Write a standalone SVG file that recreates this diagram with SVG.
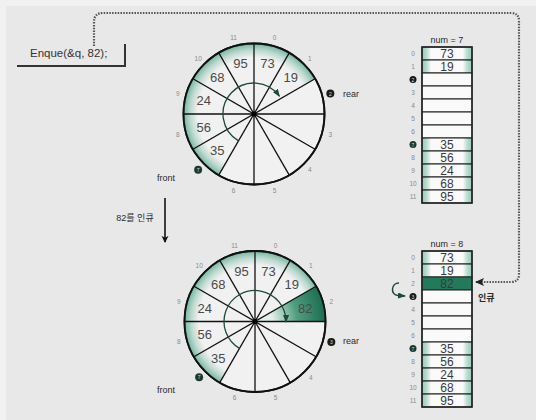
<svg xmlns="http://www.w3.org/2000/svg" xmlns:xlink="http://www.w3.org/1999/xlink" width="536" height="420" viewBox="0 0 536 420">
<style>
text{font-family:"Liberation Sans","Noto Sans CJK KR",sans-serif}
.spoke{stroke:#111;stroke-width:1.3}
.disc{fill:#f1f1f1;stroke:#111;stroke-width:1.8}
.val{font-size:13px;fill:#4a4a4a;text-anchor:middle;dominant-baseline:central}
.rval{font-size:12px;fill:#3a3a3a;text-anchor:middle;dominant-baseline:central}
.idx{font-size:6.5px;fill:#8a8a8a;text-anchor:middle;dominant-baseline:central}
.lbl{font-size:9px;fill:#2a2a2a;dominant-baseline:central}
.row{fill:#fafafa;stroke:#2a2a2a;stroke-width:1.1}
.full{fill:url(#rowg);stroke:#2a2a2a;stroke-width:1.1}
.mk{fill:#1a1a1a}
.mkg{fill:#1c3a2c}
.mkt{font-size:5px;fill:#ddd;text-anchor:middle;dominant-baseline:central}
.inner{fill:none;stroke:#1f4a3a;stroke-width:1.3}
</style>
<defs>
<radialGradient id="rimg" cx="0" cy="0" r="70.5" gradientUnits="userSpaceOnUse">
<stop offset="0.8" stop-color="#4aa487" stop-opacity="0"/>
<stop offset="0.9" stop-color="#4aa487" stop-opacity="0.3"/>
<stop offset="1" stop-color="#3d9a7c" stop-opacity="0.7"/>
</radialGradient>
<radialGradient id="darkg" cx="0" cy="0" r="70.5" gradientUnits="userSpaceOnUse">
<stop offset="0.25" stop-color="#e2efe9"/>
<stop offset="0.6" stop-color="#4f9e80"/>
<stop offset="1" stop-color="#1c6e50"/>
</radialGradient>
<linearGradient id="rowg" x1="0" y1="0" x2="1" y2="0">
<stop offset="0" stop-color="#5cb89a" stop-opacity="0.55"/>
<stop offset="0.18" stop-color="#fafafa"/>
<stop offset="0.82" stop-color="#fafafa"/>
<stop offset="1" stop-color="#5cb89a" stop-opacity="0.55"/>
</linearGradient>
<g id="spokes">
<line class="spoke" x1="0" y1="-70.5" x2="0" y2="70.5"/>
<line class="spoke" x1="0" y1="-70.5" x2="0" y2="70.5" transform="rotate(30)"/>
<line class="spoke" x1="0" y1="-70.5" x2="0" y2="70.5" transform="rotate(60)"/>
<line class="spoke" x1="0" y1="-70.5" x2="0" y2="70.5" transform="rotate(90)"/>
<line class="spoke" x1="0" y1="-70.5" x2="0" y2="70.5" transform="rotate(120)"/>
<line class="spoke" x1="0" y1="-70.5" x2="0" y2="70.5" transform="rotate(150)"/>
</g>
<marker id="ga" viewBox="0 0 8 6" refX="7" refY="3" markerWidth="8" markerHeight="6" markerUnits="userSpaceOnUse" orient="auto">
<path d="M0,0 L8,3 L0,6 z" fill="#1f4a3a"/>
</marker>
<marker id="ba" viewBox="0 0 8 8" refX="7" refY="4" markerWidth="7" markerHeight="8" markerUnits="userSpaceOnUse" orient="auto">
<path d="M0,0 L8,4 L0,8 L2,4 z" fill="#111"/>
</marker>
<marker id="da" viewBox="0 0 9 8" refX="8" refY="4" markerWidth="9" markerHeight="8" markerUnits="userSpaceOnUse" orient="auto">
<path d="M0,0 L9,4 L0,8 L2,4 z" fill="#222"/>
</marker>
</defs>
<rect x="0" y="0" width="536" height="420" fill="#f1f1f1"/>
<rect x="6" y="6" width="530" height="414" fill="#e8e8e8"/>

<g id="code">
<text x="30" y="57" font-size="11.5" fill="#333">Enque(&amp;q, 82);</text>
<path d="M17,66 H125 V44" fill="none" stroke="#333" stroke-width="2"/>
</g>

<g id="circle-top" transform="translate(254,114)">
<circle class="disc" r="70.5"/>
<path d="M0,0 L-35.25,61.05 A70.5,70.5 0 1 1 61.05,-35.25 Z" fill="url(#rimg)"/>
<use xlink:href="#spokes"/>
<circle r="70.5" fill="none" stroke="#111" stroke-width="1.8"/>
<circle r="2.5" fill="#000"/>
<path class="inner" d="M-15.5,26.85 A31,31 0 1 1 25.39,-17.78" marker-end="url(#ga)"/>
<text class="val" x="13.46" y="-50.23">73</text>
<text class="val" x="36.77" y="-36.77">19</text>
<text class="val" x="-36.77" y="36.77">35</text>
<text class="val" x="-50.23" y="13.46">56</text>
<text class="val" x="-50.23" y="-13.46">24</text>
<text class="val" x="-36.77" y="-36.77">68</text>
<text class="val" x="-13.46" y="-50.23">95</text>
<text class="idx" x="20.45" y="-76.31">0</text>
<text class="idx" x="55.86" y="-55.86">1</text>
<text class="idx" x="76.31" y="20.45">3</text>
<text class="idx" x="55.86" y="55.86">4</text>
<text class="idx" x="20.45" y="76.31">5</text>
<text class="idx" x="-20.45" y="76.31">6</text>
<text class="idx" x="-76.31" y="20.45">8</text>
<text class="idx" x="-76.31" y="-20.45">9</text>
<text class="idx" x="-55.86" y="-55.86">10</text>
<text class="idx" x="-20.45" y="-76.31">11</text>
<circle class="mk" cx="76.31" cy="-20.45" r="4"/>
<text class="mkt" x="76.31" y="-20.45">2</text>
<circle class="mkg" cx="-55.86" cy="55.86" r="4"/>
<text class="mkt" x="-55.86" y="55.86">7</text>
</g>
<g id="labels-top">
<text class="lbl" x="343" y="94">rear</text>
<text class="lbl" x="166" y="178" text-anchor="middle">front</text>
</g>

<g id="array-top">
<text class="lbl" x="447" y="40" text-anchor="middle">num = 7</text>
<rect class="full" x="422" y="47" width="50" height="13"/>
<rect class="full" x="422" y="60" width="50" height="13"/>
<rect class="row" x="422" y="73" width="50" height="13"/>
<rect class="row" x="422" y="86" width="50" height="13"/>
<rect class="row" x="422" y="99" width="50" height="13"/>
<rect class="row" x="422" y="112" width="50" height="13"/>
<rect class="row" x="422" y="125" width="50" height="13"/>
<rect class="full" x="422" y="138" width="50" height="13"/>
<rect class="full" x="422" y="151" width="50" height="13"/>
<rect class="full" x="422" y="164" width="50" height="13"/>
<rect class="full" x="422" y="177" width="50" height="13"/>
<rect class="full" x="422" y="190" width="50" height="13"/>
<rect x="422" y="47" width="50" height="156" fill="none" stroke="#222" stroke-width="1.5"/>
<text class="rval" x="447" y="53.5">73</text>
<text class="rval" x="447" y="66.5">19</text>
<text class="rval" x="447" y="144.5">35</text>
<text class="rval" x="447" y="157.5">56</text>
<text class="rval" x="447" y="170.5">24</text>
<text class="rval" x="447" y="183.5">68</text>
<text class="rval" x="447" y="196.5">95</text>
<text class="idx" x="413" y="53.5">0</text>
<text class="idx" x="413" y="66.5">1</text>
<circle class="mk" cx="413" cy="79.5" r="3.5" fill="#2a1f18"/>
<text class="mkt" x="413" y="79.5">2</text>
<text class="idx" x="413" y="92.5">3</text>
<text class="idx" x="413" y="105.5">4</text>
<text class="idx" x="413" y="118.5">5</text>
<text class="idx" x="413" y="131.5">6</text>
<circle class="mkg" cx="413" cy="144.5" r="3.5"/>
<text class="mkt" x="413" y="144.5">7</text>
<text class="idx" x="413" y="157.5">8</text>
<text class="idx" x="413" y="170.5">9</text>
<text class="idx" x="413" y="183.5">10</text>
<text class="idx" x="413" y="196.5">11</text>
</g>

<g id="step">
<text class="lbl" x="135" y="218" text-anchor="middle">82를 인큐</text>
</g>

<g id="circle-bottom" transform="translate(255,321.5)">
<circle class="disc" r="70.5"/>
<path d="M0,0 L-35.25,61.05 A70.5,70.5 0 1 1 61.05,-35.25 Z" fill="url(#rimg)"/>
<path d="M0,0 L61.05,-35.25 A70.5,70.5 0 0 1 70.5,0 Z" fill="url(#darkg)"/>
<use xlink:href="#spokes"/>
<circle r="70.5" fill="none" stroke="#111" stroke-width="1.8"/>
<circle r="2.5" fill="#000"/>
<path class="inner" d="M-15.5,26.85 A31,31 0 1 1 31,0.5" marker-end="url(#ga)"/>
<text class="val" x="13.46" y="-50.23">73</text>
<text class="val" x="36.77" y="-36.77">19</text>
<text class="val" x="50.23" y="-13.46">82</text>
<text class="val" x="-36.77" y="36.77">35</text>
<text class="val" x="-50.23" y="13.46">56</text>
<text class="val" x="-50.23" y="-13.46">24</text>
<text class="val" x="-36.77" y="-36.77">68</text>
<text class="val" x="-13.46" y="-50.23">95</text>
<text class="idx" x="20.45" y="-76.31">0</text>
<text class="idx" x="55.86" y="-55.86">1</text>
<text class="idx" x="76.31" y="-20.45">2</text>
<text class="idx" x="55.86" y="55.86">4</text>
<text class="idx" x="20.45" y="76.31">5</text>
<text class="idx" x="-20.45" y="76.31">6</text>
<text class="idx" x="-76.31" y="20.45">8</text>
<text class="idx" x="-76.31" y="-20.45">9</text>
<text class="idx" x="-55.86" y="-55.86">10</text>
<text class="idx" x="-20.45" y="-76.31">11</text>
<circle class="mk" cx="76.31" cy="20.45" r="4"/>
<text class="mkt" x="76.31" y="20.45">3</text>
<circle class="mkg" cx="-55.86" cy="55.86" r="4"/>
<text class="mkt" x="-55.86" y="55.86">7</text>
</g>
<g id="labels-bottom">
<text class="lbl" x="343" y="341">rear</text>
<text class="lbl" x="166" y="390" text-anchor="middle">front</text>
</g>

<g id="array-bottom">
<text class="lbl" x="447" y="244" text-anchor="middle">num = 8</text>
<rect class="full" x="422" y="251" width="50" height="13"/>
<rect class="full" x="422" y="264" width="50" height="13"/>
<rect x="422" y="277" width="50" height="13" fill="#237a5a" stroke="#2a2a2a" stroke-width="1.1"/>
<rect class="row" x="422" y="290" width="50" height="13"/>
<rect class="row" x="422" y="303" width="50" height="13"/>
<rect class="row" x="422" y="316" width="50" height="13"/>
<rect class="row" x="422" y="329" width="50" height="13"/>
<rect class="full" x="422" y="342" width="50" height="13"/>
<rect class="full" x="422" y="355" width="50" height="13"/>
<rect class="full" x="422" y="368" width="50" height="13"/>
<rect class="full" x="422" y="381" width="50" height="13"/>
<rect class="full" x="422" y="394" width="50" height="13"/>
<rect x="422" y="251" width="50" height="156" fill="none" stroke="#222" stroke-width="1.5"/>
<text class="rval" x="447" y="257.5">73</text>
<text class="rval" x="447" y="270.5">19</text>
<text class="rval" x="447" y="283.5" fill="#1a2a22">82</text>
<text class="rval" x="447" y="348.5">35</text>
<text class="rval" x="447" y="361.5">56</text>
<text class="rval" x="447" y="374.5">24</text>
<text class="rval" x="447" y="387.5">68</text>
<text class="rval" x="447" y="400.5">95</text>
<text class="idx" x="413" y="257.5">0</text>
<text class="idx" x="413" y="270.5">1</text>
<text class="idx" x="413" y="283.5">2</text>
<circle class="mk" cx="413" cy="296.5" r="3.5"/>
<text class="mkt" x="413" y="296.5">3</text>
<text class="idx" x="413" y="309.5">4</text>
<text class="idx" x="413" y="322.5">5</text>
<text class="idx" x="413" y="335.5">6</text>
<circle class="mkg" cx="413" cy="348.5" r="3.5"/>
<text class="mkt" x="413" y="348.5">7</text>
<text class="idx" x="413" y="361.5">8</text>
<text class="idx" x="413" y="374.5">9</text>
<text class="idx" x="413" y="387.5">10</text>
<text class="idx" x="413" y="400.5">11</text>
<text class="lbl" x="478" y="298" font-weight="bold">인큐</text>
</g>

<g id="connectors">
<path d="M94,46 V22 Q94,13 103,13 H511 Q519,13 519,21 V274 Q519,282 511,282 H476" fill="none" stroke="#555" stroke-width="2.2" stroke-dasharray="1.5 1.3" marker-end="url(#da)"/>
<line x1="165" y1="198" x2="165" y2="242" stroke="#111" stroke-width="1.6" marker-end="url(#ba)"/>
<path d="M399,283 C391,283 390,295 398,295.5 L405,296" fill="none" stroke="#1f4a3a" stroke-width="1.5" marker-end="url(#ga)"/>
</g>
</svg>
